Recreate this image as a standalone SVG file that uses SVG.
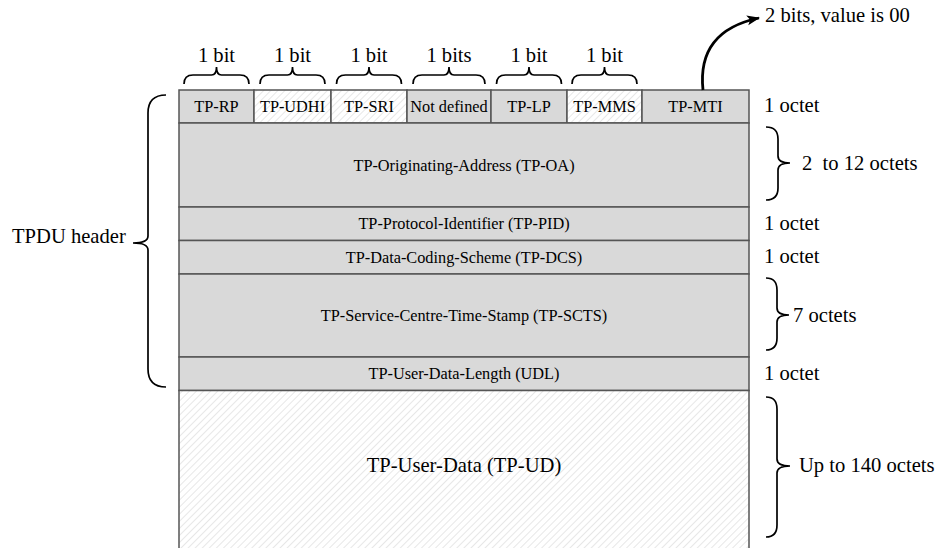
<svg xmlns="http://www.w3.org/2000/svg" width="940" height="548" viewBox="0 0 940 548">
<style>
text{font-family:"Liberation Serif","Times New Roman",serif;fill:#000}
.c{font-size:16.3px;text-anchor:middle}
.l{font-size:20.6px}
.lm{font-size:20.6px;text-anchor:middle}
.g{fill:#d9d9d9;stroke:#555;stroke-width:1.5}
.h{fill:url(#hatch);stroke:#555;stroke-width:1.5}
.br{fill:none;stroke:#000;stroke-width:1.7}
.ar{fill:none;stroke:#000;stroke-width:2.8}
</style>
<defs>
<pattern id="hatch" patternUnits="userSpaceOnUse" width="5" height="5" patternTransform="rotate(45)">
<rect width="5" height="5" fill="#fff"/>
<line x1="0" y1="0" x2="0" y2="5" stroke="#cfcfcf" stroke-width="1"/>
</pattern>
<marker id="ah" markerUnits="userSpaceOnUse" markerWidth="14" markerHeight="12" refX="12" refY="6" orient="auto">
<path d="M0,1 L13,6 L0,11 L3,6 Z" fill="#000"/>
</marker>
</defs>
<rect width="940" height="548" fill="#fff"/>

<g id="n-tp-rp"><rect class="g" x="179" y="90" width="75" height="33"/><text class="c" x="216.5" y="112">TP-RP</text></g>
<g id="n-tp-udhi"><rect class="h" x="254" y="90" width="77" height="33"/><text class="c" x="292.5" y="112">TP-UDHI</text></g>
<g id="n-tp-sri"><rect class="h" x="331" y="90" width="76" height="33"/><text class="c" x="369" y="112">TP-SRI</text></g>
<g id="n-not-defined"><rect class="g" x="407" y="90" width="84" height="33"/><text class="c" x="449" y="112">Not defined</text></g>
<g id="n-tp-lp"><rect class="g" x="491" y="90" width="76" height="33"/><text class="c" x="529" y="112">TP-LP</text></g>
<g id="n-tp-mms"><rect class="h" x="567" y="90" width="75" height="33"/><text class="c" x="604.5" y="112">TP-MMS</text></g>
<g id="n-tp-mti"><rect class="g" x="642" y="90" width="107" height="33"/><text class="c" x="695.5" y="112">TP-MTI</text></g>

<g id="n-tp-oa"><rect class="g" x="179" y="123" width="570" height="84"/><text class="c" x="464" y="171">TP-Originating-Address (TP-OA)</text></g>
<g id="n-tp-pid"><rect class="g" x="179" y="207" width="570" height="33.5"/><text class="c" x="464" y="229">TP-Protocol-Identifier (TP-PID)</text></g>
<g id="n-tp-dcs"><rect class="g" x="179" y="240.5" width="570" height="33.5"/><text class="c" x="464" y="262.5">TP-Data-Coding-Scheme (TP-DCS)</text></g>
<g id="n-tp-scts"><rect class="g" x="179" y="274" width="570" height="83"/><text class="c" x="464" y="321">TP-Service-Centre-Time-Stamp (TP-SCTS)</text></g>
<g id="n-tp-udl"><rect class="g" x="179" y="357" width="570" height="33.5"/><text class="c" x="464" y="379">TP-User-Data-Length (UDL)</text></g>
<g id="n-tp-ud"><rect x="179" y="390.5" width="570" height="160" fill="url(#hatch)"/><path d="M179,548 V390.5 H749 V548" fill="none" stroke="#555" stroke-width="1.5"/><text class="lm" x="464" y="472">TP-User-Data (TP-UD)</text></g>

<g id="bit-labels">
<text class="lm" x="216.5" y="62">1 bit</text>
<text class="lm" x="292.5" y="62">1 bit</text>
<text class="lm" x="369" y="62">1 bit</text>
<text class="lm" x="449" y="62">1 bits</text>
<text class="lm" x="529" y="62">1 bit</text>
<text class="lm" x="604.5" y="62">1 bit</text>
</g>

<g id="braces">
<path class="br" d="M184,84 Q184,75 193,75 L211.5,75 Q216.5,75 216.5,67 Q216.5,75 221.5,75 L240,75 Q249,75 249,84"/>
<path class="br" d="M260,84 Q260,75 269,75 L287.5,75 Q292.5,75 292.5,67 Q292.5,75 297.5,75 L316,75 Q325,75 325,84"/>
<path class="br" d="M336.5,84 Q336.5,75 345.5,75 L364,75 Q369,75 369,67 Q369,75 374,75 L392.5,75 Q401.5,75 401.5,84"/>
<path class="br" d="M413,84 Q413,75 422,75 L444,75 Q449,75 449,67 Q449,75 454,75 L476,75 Q485,75 485,84"/>
<path class="br" d="M496.5,84 Q496.5,75 505.5,75 L524,75 Q529,75 529,67 Q529,75 534,75 L552.5,75 Q561.5,75 561.5,84"/>
<path class="br" d="M572,84 Q572,75 581,75 L599.5,75 Q604.5,75 604.5,67 Q604.5,75 609.5,75 L628,75 Q637,75 637,84"/>
<path class="br" d="M766,127 Q778,127 778,139 L778,156 Q778,163 790,163 Q778,163 778,170 L778,188 Q778,200 766,200"/>
<path class="br" d="M766,278 Q777,278 777,290 L777,308 Q777,315 789,315 Q777,315 777,322 L777,338 Q777,350 766,350"/>
<path class="br" d="M766,397 Q777,397 777,409 L777,459 Q777,466 790,466 Q777,466 777,473 L777,525 Q777,537 766,537"/>
<path class="br" d="M166,95 Q148,95 148,113 L148,236 Q148,243 133,243 Q148,243 148,250 L148,369 Q148,387 166,387"/>
</g>

<g id="side-labels">
<text class="l" x="764" y="112">1 octet</text>
<text class="l" x="802" y="170" xml:space="preserve">2  to 12 octets</text>
<text class="l" x="764" y="230">1 octet</text>
<text class="l" x="764" y="263">1 octet</text>
<text class="l" x="793" y="322">7 octets</text>
<text class="l" x="764" y="380">1 octet</text>
<text class="l" x="799" y="472">Up to 140 octets</text>
<text class="l" x="12" y="243">TPDU header</text>
<text class="l" x="765" y="22">2 bits, value is 00</text>
</g>

<g id="connectors">
<path class="ar" d="M703,90 C699,52 716,27 759,18" marker-end="url(#ah)"/>
</g>
</svg>
